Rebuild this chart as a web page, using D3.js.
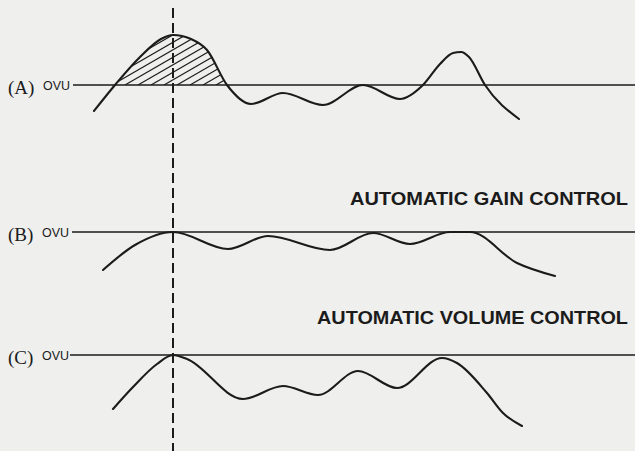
<!DOCTYPE html>
<html><head><meta charset="utf-8">
<script src="https://cdn.jsdelivr.net/npm/d3@7"></script>
<style>html,body{margin:0;padding:0;background:#efefed;} svg{display:block}</style>
</head><body><svg id="c" width="635" height="451"></svg>
<script>
// ---- data (time in arbitrary units, level relative to 0 VU) ----
const panelLabels = ["(A)", "(B)", "(C)"];
const referenceLabel = "OVU";
const captions = ["", "AUTOMATIC GAIN CONTROL", "AUTOMATIC VOLUME CONTROL"];
const markerTime = 100;

const timeA  = [21, 42, 67, 88, 100, 118, 134, 154, 178, 210, 250, 290, 327, 350, 367, 380, 388, 396, 412, 446];
const levelA = [-2.6, 0, 2.8, 4.6, 5.0, 4.6, 3.5, 0, -1.9, -0.8, -2.0, 0, -1.4, 0, 2.1, 3.2, 3.3, 2.8, 0, -3.4];

const timeB  = [30, 62, 100, 155, 195, 257, 300, 337, 377, 397, 444, 482];
const levelB = [-3.8, -1.3, 0, -1.7, -0.4, -1.8, -0.1, -1.2, 0, 0, -3.1, -4.4];

const timeC  = [40, 60, 84, 100, 114, 170, 210, 245, 285, 324, 369, 384, 414, 430, 449];
const levelC = [-5.4, -3.2, -0.9, 0, -0.4, -4.4, -3.1, -4.0, -1.6, -3.3, -0.3, -0.8, -3.8, -5.8, -7.1];

// ---- layout ----
const W = 635, H = 451;
const ink = "#1b1b1b";
const svg = d3.select("#c");
svg.append("rect").attr("width", W).attr("height", H).attr("fill", "#efefed");

const x = d3.scaleLinear().domain([0, 562]).range([73, 635]);
const curve = d3.curveMonotoneX;

const panels = [
  {label: panelLabels[0], t: timeA, v: levelA, base: 85,  lineX0: 73, labX: 8, ovuX: 43},
  {label: panelLabels[1], t: timeB, v: levelB, base: 232, lineX0: 72, labX: 8, ovuX: 42},
  {label: panelLabels[2], t: timeC, v: levelC, base: 355, lineX0: 70, labX: 8, ovuX: 42}
];

panels.forEach((p, i) => {
  const y = d3.scaleLinear().domain([-8, 6]).range([p.base + 80, p.base - 60]);
  const pts = p.t.map((t, k) => [t, p.v[k]]);
  const g = svg.append("g");

  // 0 VU reference line
  g.append("line")
    .attr("x1", p.lineX0).attr("x2", W)
    .attr("y1", y(0)).attr("y2", y(0))
    .attr("stroke", ink).attr("stroke-width", 1.6);

  // hatched area above 0 VU (panel A, first burst)
  if (i === 0) {
    const area = d3.area().x(d => x(d[0])).y0(y(0)).y1(d => y(d[1])).curve(curve);
    svg.append("clipPath").attr("id", "hatchClip")
      .append("path").attr("d", area(pts));
    const hg = g.append("g").attr("clip-path", "url(#hatchClip)");
    const ang = 30 * Math.PI / 180, L = 140;
    d3.range(60, 235, 13).forEach(x0 => {
      hg.append("line")
        .attr("x1", x0).attr("y1", y(0))
        .attr("x2", x0 + L * Math.cos(ang)).attr("y2", y(0) - L * Math.sin(ang))
        .attr("stroke", ink).attr("stroke-width", 1.2);
    });
  }

  const line = d3.line().x(d => x(d[0])).y(d => y(d[1])).curve(curve);
  g.append("path").attr("d", line(pts))
    .attr("fill", "none").attr("stroke", ink).attr("stroke-width", 2.1)
    .attr("stroke-linecap", "round").attr("stroke-linejoin", "round");

  g.append("text").text(p.label)
    .attr("x", p.labX).attr("y", y(0) + 9)
    .attr("font-family", "'Liberation Serif', 'Times New Roman', serif")
    .attr("font-size", 19).attr("fill", ink);
  g.append("text").text(referenceLabel)
    .attr("x", p.ovuX).attr("y", y(0) + 5)
    .attr("font-family", "'Liberation Sans', Arial, sans-serif")
    .attr("font-size", 13).attr("textLength", 27).attr("lengthAdjust", "spacingAndGlyphs")
    .attr("fill", ink);
});

// captions
[[captions[1], 350, 205, 278], [captions[2], 317, 324, 311]].forEach(([txt, x0, y0, len]) => {
  svg.append("text").text(txt)
    .attr("x", x0).attr("y", y0)
    .attr("textLength", len).attr("lengthAdjust", "spacingAndGlyphs")
    .attr("font-family", "'Liberation Sans', Arial, sans-serif").attr("font-weight", "bold")
    .attr("font-size", 17.5).attr("fill", ink);
});

// dashed marker line
svg.append("line")
  .attr("x1", x(markerTime)).attr("x2", x(markerTime))
  .attr("y1", 8).attr("y2", H)
  .attr("stroke", ink).attr("stroke-width", 2)
  .attr("stroke-dasharray", "10,5");
</script>
</body></html>
